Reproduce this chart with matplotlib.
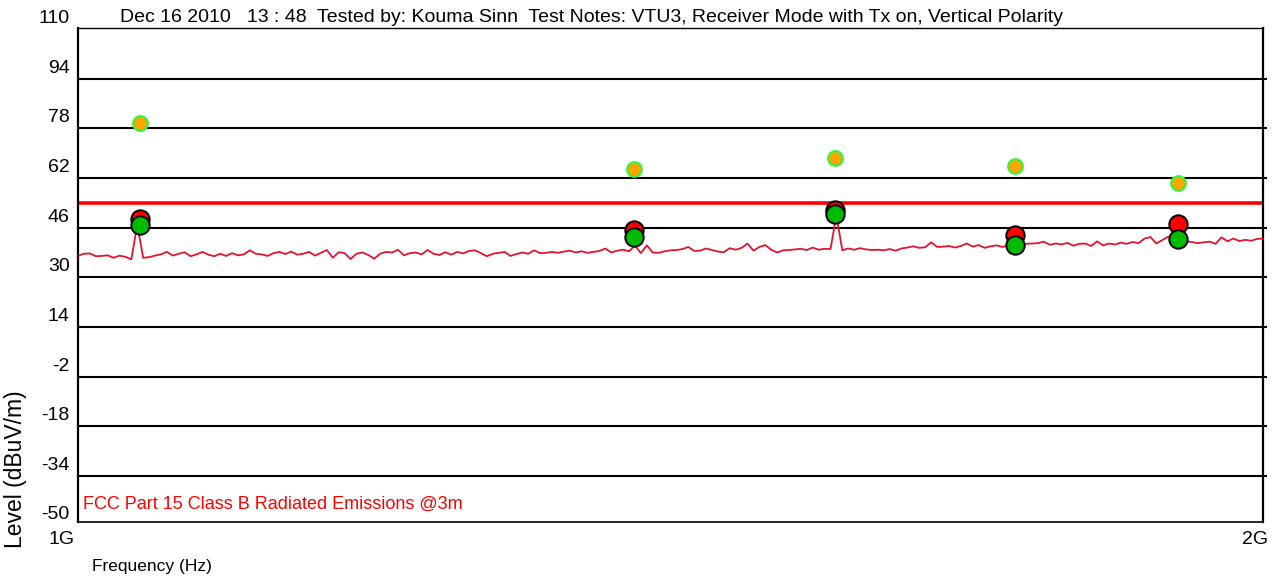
import matplotlib.pyplot as plt
import matplotlib.transforms as mtransforms
import numpy as np

plt.rcParams['font.family'] = ['Liberation Sans', 'DejaVu Sans']

# sweep: 1 GHz to 2 GHz, 5 MHz steps
trace_start = 1.0e9
trace_stop = 2.0e9
trace_level = [
    36.9, 37.6, 37.7, 36.8, 36.9, 37.1, 36.3, 37.0, 36.6, 35.8,
    47.0,
    36.3, 36.5, 37.0, 37.4, 38.2, 37.0, 37.6, 38.1, 36.8, 37.4,
    38.2, 37.3, 36.8, 37.6, 36.9, 37.8, 37.1, 37.4, 38.7, 37.6,
    37.4, 36.9, 37.8, 38.2, 37.5, 38.3, 37.3, 37.6, 38.2, 37.0,
    37.9, 38.8, 36.3, 38.1, 37.8, 35.9, 37.6, 38.0, 37.2, 36.0,
    37.6, 38.2, 38.0, 38.9, 37.1, 37.8, 38.0, 37.4, 38.8, 37.6,
    37.2, 38.1, 37.3, 38.2, 37.7, 38.5, 38.7, 37.8, 36.8, 37.6,
    37.9, 38.2, 36.9, 37.5, 38.0, 37.6, 38.7, 37.8, 37.9, 38.2,
    37.9, 38.3, 38.6, 38.0, 38.4, 37.9, 38.2, 38.5, 39.3, 38.0,
    38.6, 38.9, 38.4, 40.2, 37.8, 40.3, 38.0, 37.9, 38.4, 38.7,
    38.8, 39.1, 39.8, 38.5, 38.6, 39.3, 38.8, 38.3, 38.1, 39.4,
    38.9, 39.5, 40.9, 38.6, 39.8, 40.4, 38.9, 38.0, 38.7, 38.8,
    39.0, 39.2, 38.8, 39.6, 38.9, 39.2, 39.1,
    50.0,
    38.7, 39.3, 38.9, 39.4, 39.0, 38.8, 38.9, 38.7, 39.1, 38.6, 39.3, 39.6,
    40.0, 39.5, 39.7, 41.3, 39.8, 39.9, 40.1, 39.6, 40.1, 40.9,
    39.9, 40.4, 39.5, 40.0, 40.3, 39.8, 40.2, 40.6, 40.4, 40.8,
    40.9, 41.0, 41.5, 40.5, 40.9, 40.6, 41.1, 40.2, 40.8, 40.9,
    40.1, 41.6, 40.3, 40.9, 40.6, 41.2, 40.8, 41.4, 41.0, 42.5,
    43.0, 40.9, 42.0, 43.1, 42.4, 42.2, 41.6, 41.4, 41.0, 41.3,
    41.5, 40.8, 42.9, 41.6, 42.5, 41.7, 42.1, 41.8, 42.4, 42.5,
]

# measured emissions
meas_freq = [1.052e9, 1.469e9, 1.639e9, 1.791e9, 1.928e9]
peak_level = [79.9, 65.0, 68.4, 65.9, 60.5]
qp_level = [48.7, 45.3, 51.7, 43.7, 47.2]
avg_level = [46.9, 43.1, 50.5, 40.5, 42.5]

limit_level = 54.0
y_ticks = [110, 94, 78, 62, 46, 30, 14, -2, -18, -34, -50]

title = ('Dec 16 2010   13 : 48  Tested by: Kouma Sinn  Test Notes: VTU3, '
         'Receiver Mode with Tx on, Vertical Polarity')

fig = plt.figure(figsize=(12.8, 5.82), dpi=100)
ax = fig.add_axes([78 / 1280, 1 - 522 / 582, 1185 / 1280, 494 / 582])

ax.set_xlim(trace_start, trace_stop)
ax.set_ylim(-48.9, 110.4)

for v in y_ticks[1:-1]:
    ax.axhline(v, color='black', lw=1.5, zorder=1)

ax.axhline(limit_level, color='#ff0000', lw=2.6, zorder=2)

freq = np.linspace(trace_start, trace_stop, len(trace_level))
ax.plot(freq, trace_level, color='#e3142f', lw=1.3, zorder=3)

ax.scatter(meas_freq, peak_level, s=110, color='#ffa500',
           edgecolors='#3cf03c', linewidths=1.6, zorder=5)
ax.scatter(meas_freq, qp_level, s=175, color='#ff0000',
           edgecolors='black', linewidths=1.4, zorder=5)
ax.scatter(meas_freq, avg_level, s=175, color='#00bb00',
           edgecolors='black', linewidths=1.4, zorder=6)

# y labels sit just above their grid lines
ax.set_yticks(y_ticks[1:-1])
ax.tick_params(axis='y', left=False, right=True, labelleft=False,
               length=3, width=1.5, direction='out')
ax.set_xticks([])
lift = mtransforms.ScaledTranslation(0, 10.5 / 100, fig.dpi_scale_trans)
trans = mtransforms.blended_transform_factory(ax.transAxes, ax.transData) + lift
for v in y_ticks:
    ax.text(-0.007, v, str(v), transform=trans, ha='right', va='center',
            fontsize=14, clip_on=False)

for side in ['left', 'right']:
    ax.spines[side].set_linewidth(1.6)
ax.spines['top'].set_linewidth(1.0)
ax.spines['bottom'].set_linewidth(1.2)

fig.text(120 / 1280, 1 - 18 / 582, title, fontsize=14, va='center', ha='left')
ax.text(0.004, 0.018, 'FCC Part 15 Class B Radiated Emissions @3m',
        transform=ax.transAxes, color='#ff0000', fontsize=13, va='bottom')

fig.text(75 / 1280, 1 - 540 / 582, '1G', fontsize=14, ha='right', va='center')
fig.text(1268 / 1280, 1 - 540 / 582, '2G', fontsize=14, ha='right', va='center')
fig.text(92 / 1280, 1 - 566 / 582, 'Frequency (Hz)', fontsize=12.5, ha='left',
         va='center')
fig.text(16 / 1280, 1 - 548 / 582, 'Level (dBuV/m)', fontsize=16.5,
         rotation=90, ha='center', va='bottom')

fig.savefig('out.png', dpi=100)
